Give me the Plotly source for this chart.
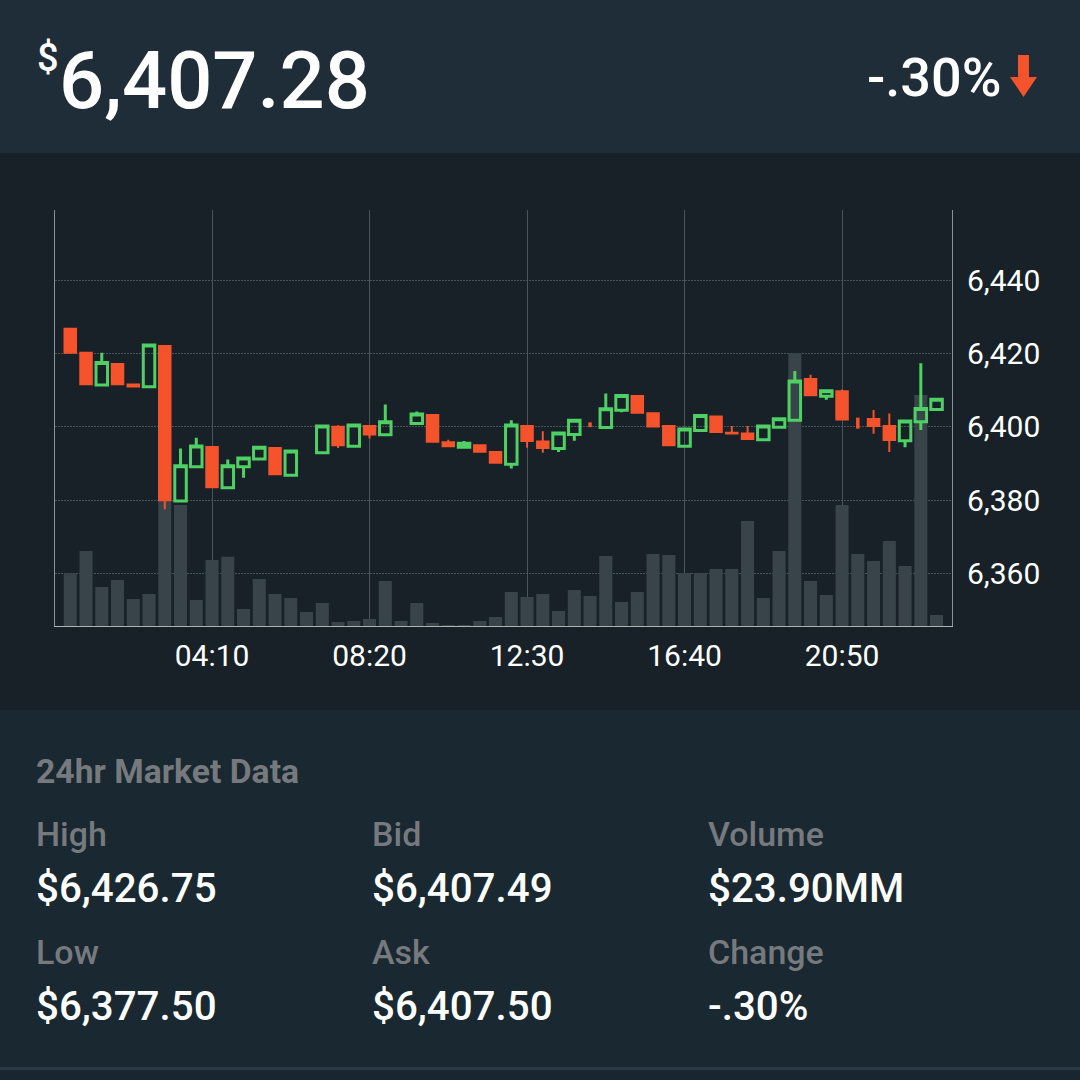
import plotly.graph_objects as go

# =========================================================
#  DATA
# =========================================================

TIMES = [
    "00:25", "00:50", "01:15", "01:40", "02:05", "02:30", "02:55", "03:20",
    "03:45", "04:10", "04:35", "05:00", "05:25", "05:50", "06:15", "06:40",
    "07:05", "07:30", "07:55", "08:20", "08:45", "09:10", "09:35", "10:00",
    "10:25", "10:50", "11:15", "11:40", "12:05", "12:30", "12:55", "13:20",
    "13:45", "14:10", "14:35", "15:00", "15:25", "15:50", "16:15", "16:40",
    "17:05", "17:30", "17:55", "18:20", "18:45", "19:10", "19:35", "20:00",
    "20:25", "20:50", "21:15", "21:40", "22:05", "22:30", "22:55", "23:20",
]

OPEN = [
    6426.75, 6420.2, 6411.4, 6417.1, 6411.5, 6410.9, 6422.0, 6379.8,
    6389.1, 6394.5, 6383.4, 6389.1, 6391.2, 6394.2, 6386.8, None,
    6392.9, 6400.0, 6394.7, 6400.2, 6397.8, None, 6400.9, 6403.2,
    6395.8, 6394.4, 6395.0, 6393.1, 6389.8, 6400.2, 6396.0, 6394.1,
    6397.9, None, 6399.8, 6404.5, 6408.4, 6403.7, 6400.2, 6394.7,
    6399.0, 6402.8, 6398.4, 6398.2, 6396.5, 6399.9, 6401.8, 6413.0,
    6408.3, 6409.7, None, 6402.1, 6400.2, 6396.2, 6401.4, 6404.7,
]
HIGH = [
    6426.75, 6420.3, 6420.2, 6417.3, 6411.5, 6422.3, 6422.2, 6394.1,
    6397.0, 6394.5, 6391.1, 6391.5, 6394.8, 6394.2, 6393.4, None,
    6400.2, 6400.4, 6400.9, 6400.2, 6406.1, None, 6404.2, 6403.2,
    6396.5, 6396.1, 6395.0, 6393.4, 6401.8, 6400.5, 6398.8, 6398.3,
    6401.8, None, 6409.1, 6408.5, 6408.4, 6404.0, 6400.2, 6399.4,
    6403.1, 6402.8, 6400.2, 6400.2, 6400.2, 6402.2, 6415.2, 6414.2,
    6409.8, 6410.2, None, 6404.6, 6403.6, 6401.6, 6417.3, 6407.5,
]
LOW = [
    6420.2, 6411.4, 6411.4, 6411.3, 6411.0, 6410.5, 6377.5, 6379.8,
    6389.1, 6383.5, 6383.2, 6386.1, 6391.2, 6387.1, 6386.6, None,
    6392.9, 6394.2, 6394.7, 6396.8, 6397.8, None, 6400.9, 6395.9,
    6394.7, 6394.4, 6393.2, 6390.2, 6388.6, 6394.3, 6392.9, 6393.1,
    6396.2, None, 6399.8, 6404.0, 6403.8, 6399.9, 6395.0, 6394.3,
    6399.0, 6398.6, 6398.0, 6396.5, 6396.5, 6399.9, 6401.8, 6408.4,
    6407.4, 6402.0, None, 6398.1, 6393.1, 6394.4, 6399.1, 6404.7,
]
CLOSE = [
    6420.2, 6411.6, 6417.5, 6411.6, 6411.0, 6422.3, 6380.0, 6389.4,
    6394.8, 6383.5, 6389.4, 6391.5, 6394.4, 6387.1, 6393.4, None,
    6400.2, 6395.0, 6400.5, 6397.9, 6401.4, None, 6403.5, 6395.9,
    6394.7, 6395.5, 6393.2, 6390.2, 6400.5, 6396.1, 6394.2, 6398.3,
    6401.8, None, 6404.9, 6408.5, 6403.8, 6400.1, 6395.0, 6399.4,
    6403.1, 6398.6, 6398.2, 6396.7, 6400.2, 6402.2, 6412.5, 6408.6,
    6409.8, 6402.0, None, 6400.2, 6396.4, 6401.6, 6405.0, 6407.5,
]

VOLUME = [
    158, 225, 117, 138, 81, 96, 378, 363, 78, 198, 208, 51, 141, 96,
    84, 42, 69, 12, 15, 21, 135, 15, 69, 9, 3, 1, 15, 27, 102, 87,
    96, 45, 108, 90, 210, 72, 102, 216, 213, 159, 159, 171, 171, 315,
    84, 225, 818, 135, 93, 363, 216, 195, 255, 180, 693, 33,
]

# wick-only candles, no body to speak of
DOJI_TIMES = ["14:10", "21:15"]
DOJI_HIGH = [6401.2, 6402.5]
DOJI_LOW = [6399.9, 6399.5]

PRICE_TICKS = [6360, 6380, 6400, 6420, 6440]
TIME_TICKS = ["04:10", "08:20", "12:30", "16:40", "20:50"]

# =========================================================
#  COLORS
# =========================================================

COLOR_HEADER = "#1e2d37"
COLOR_CHART_BG = "#172127"
COLOR_STATS = "#192831"
COLOR_DIVIDER = "#2a3a44"
COLOR_FOOTER = "#192630"
COLOR_UP = "#4fd065"
COLOR_DOWN = "#f4532c"
COLOR_VOLUME = "#38434a"
COLOR_GRID = "#48535a"
COLOR_AXIS = "#8b9297"
COLOR_MUTED = "#767a7e"

FONT = "Roboto"
W = H = 1080

# plot box in pixels
LEFT, RIGHT, TOP, BOTTOM = 55, 952, 210, 626


def px_x(x):
    return x / W


def px_y(y):
    return 1 - y / H


fig = go.Figure()

fig.add_trace(go.Bar(
    x=TIMES,
    y=VOLUME,
    marker=dict(color=COLOR_VOLUME, line=dict(width=0)),
    yaxis="y",
    hoverinfo="skip",
))

# wick-only ones are short thick strokes
doji_x, doji_y = [], []
for t, hi, lo in zip(DOJI_TIMES, DOJI_HIGH, DOJI_LOW):
    doji_x += [t, t, None]
    doji_y += [hi, lo, None]

fig.add_trace(go.Candlestick(
    x=TIMES,
    open=OPEN,
    high=HIGH,
    low=LOW,
    close=CLOSE,
    yaxis="y2",
    whiskerwidth=0,
    increasing=dict(line=dict(color=COLOR_UP, width=3), fillcolor="rgba(0,0,0,0)"),
    decreasing=dict(line=dict(color=COLOR_DOWN, width=2), fillcolor=COLOR_DOWN),
))

fig.add_trace(go.Scatter(
    x=doji_x,
    y=doji_y,
    mode="lines",
    yaxis="y2",
    line=dict(color=COLOR_DOWN, width=3.5),
    hoverinfo="skip",
))

# panels
shapes = [
    dict(type="rect", xref="paper", yref="paper", x0=0, x1=1, y0=px_y(153), y1=1,
         fillcolor=COLOR_HEADER, line_width=0, layer="below"),
    dict(type="rect", xref="paper", yref="paper", x0=0, x1=1, y0=px_y(710), y1=px_y(153),
         fillcolor=COLOR_CHART_BG, line_width=0, layer="below"),
    dict(type="rect", xref="paper", yref="paper", x0=0, x1=1, y0=px_y(1067), y1=px_y(710),
         fillcolor=COLOR_STATS, line_width=0, layer="below"),
    dict(type="rect", xref="paper", yref="paper", x0=0, x1=1, y0=px_y(1070), y1=px_y(1067),
         fillcolor=COLOR_DIVIDER, line_width=0, layer="below"),
    dict(type="rect", xref="paper", yref="paper", x0=0, x1=1, y0=0, y1=px_y(1070),
         fillcolor=COLOR_FOOTER, line_width=0, layer="below"),
]

# down arrow next to the percent change
arrow = [(1018, 55), (1029, 55), (1029, 77), (1037, 77), (1023.5, 97), (1010, 77), (1018, 77)]
path = "M " + " L ".join(f"{px_x(x):.4f},{px_y(y):.4f}" for x, y in arrow) + " Z"
shapes.append(dict(type="path", xref="paper", yref="paper", path=path,
                   fillcolor=COLOR_DOWN, line_width=0))


def label(x, y, text, size, color="#ffffff", weight=400, anchor="left"):
    return dict(
        x=px_x(x), y=px_y(y), xref="paper", yref="paper", text=text, showarrow=False,
        xanchor=anchor, yanchor="middle", borderpad=0,
        font=dict(family=FONT, size=size, color=color, weight=weight),
    )


annotations = [
    label(36, 58, "$", 38, weight=500),
    label(58, 80, "6,407.28", 79.5, weight=500),
    label(1003, 78, "-.30%", 54, weight=500, anchor="right"),
    label(35, 771, "24hr Market Data", 33.7, color=COLOR_MUTED, weight=700),
]

STATS = [
    (35, "High", "$6,426.75", "Low", "$6,377.50"),
    (371, "Bid", "$6,407.49", "Ask", "$6,407.50"),
    (707, "Volume", "$23.90MM", "Change", "-.30%"),
]
for x, top_name, top_val, bot_name, bot_val in STATS:
    annotations.append(label(x, 834, top_name, 34, color=COLOR_MUTED, weight=500))
    annotations.append(label(x, 888, top_val, 40.3, weight=500))
    annotations.append(label(x, 952, bot_name, 34, color=COLOR_MUTED, weight=500))
    annotations.append(label(x, 1006, bot_val, 40.3, weight=500))

fig.update_layout(
    width=W,
    height=H,
    margin=dict(l=0, r=0, t=0, b=0),
    autosize=False,
    paper_bgcolor=COLOR_CHART_BG,
    plot_bgcolor="rgba(0,0,0,0)",
    showlegend=False,
    bargap=0.17,
    boxgap=0.27,
    boxgroupgap=0,
    shapes=shapes,
    annotations=annotations,
    xaxis=dict(
        type="category",
        categoryorder="array",
        categoryarray=TIMES,
        domain=[px_x(LEFT), px_x(RIGHT)],
        range=[-0.97, 55.98],
        rangeslider=dict(visible=False),
        tickmode="array",
        tickvals=TIME_TICKS,
        ticktext=TIME_TICKS,
        tickfont=dict(family=FONT, size=30, color="#ffffff"),
        ticks="outside",
        ticklen=3,
        tickcolor="rgba(0,0,0,0)",
        showgrid=True,
        gridcolor="#4a545a",
        gridwidth=1,
        showline=True,
        linecolor="#aeb3b6",
        linewidth=1,
        zeroline=False,
        fixedrange=True,
    ),
    yaxis=dict(
        domain=[px_y(BOTTOM), px_y(TOP)],
        range=[0, 1248],
        showticklabels=False,
        showgrid=False,
        zeroline=False,
        showline=True,
        linecolor=COLOR_AXIS,
        linewidth=1,
        ticks="",
        fixedrange=True,
    ),
    yaxis2=dict(
        overlaying="y",
        side="right",
        range=[6345.7, 6459.1],
        tickmode="array",
        tickvals=PRICE_TICKS,
        tickformat=",d",
        tickfont=dict(family=FONT, size=30, color="#ffffff"),
        ticks="outside",
        ticklen=8,
        tickcolor="rgba(0,0,0,0)",
        showgrid=True,
        gridcolor=COLOR_GRID,
        griddash="1.5px,1.5px",
        gridwidth=1,
        showline=True,
        linecolor=COLOR_AXIS,
        linewidth=1,
        zeroline=False,
        fixedrange=True,
    ),
)

fig.write_html(
    "out.html",
    config={"displayModeBar": False},
    post_script="document.body.style.margin='0';document.body.style.overflow='hidden';",
)
